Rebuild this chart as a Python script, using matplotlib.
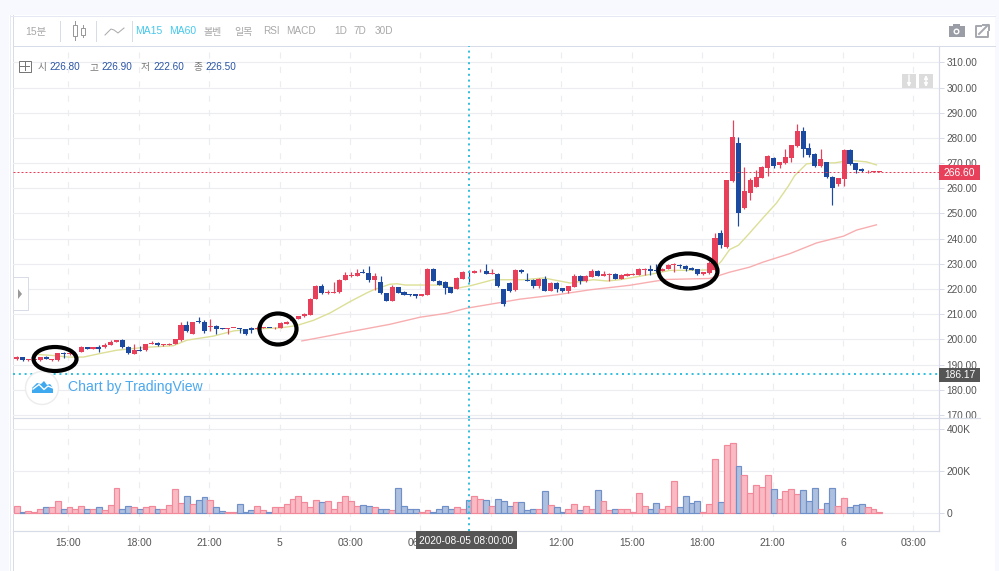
import numpy as np
import matplotlib
matplotlib.use("Agg")
import matplotlib.pyplot as plt
from matplotlib.patches import Rectangle, Ellipse, Circle, Polygon

plt.rcParams['font.family'] = ['Liberation Sans', 'Noto Sans CJK KR']

# 15 minute candles
opens = [192.3, 192.9, 191.9, 191.9, 191.8, 192.9, 192.0, 191.8, 194.3, 194.2,
         194.5, 195.2, 196.9, 196.0, 196.9, 197.0, 197.7, 199.0, 199.9, 197.1,
         194.4, 195.8, 195.7, 198.0, 198.7, 197.6, 197.8, 198.0, 199.7, 205.6,
         202.0, 207.2, 207.0, 205.0, 205.5, 204.4, 204.2, 204.5, 204.6, 204.0,
         204.6, 204.0, 204.6, 204.6, 204.4, 204.5, 206.2, 207.2, 208.2, 209.2,
         209.6, 216.0, 221.2, 218.4, 218.6, 218.7, 223.7, 225.2, 225.2, 226.9,
         226.5, 223.7, 222.9, 218.4, 215.3, 220.9, 218.7, 218.1, 218.1, 217.4,
         217.7, 228.1, 223.3, 222.9, 220.9, 220.0, 224.1, 226.9, 226.5, 227.0,
         227.3, 225.9, 226.1, 220.1, 222.5, 219.5, 227.7, 223.7, 223.7, 221.3,
         224.1, 219.3, 222.5, 220.5, 219.3, 220.9, 225.3, 223.3, 224.9, 227.3,
         225.3, 225.7, 226.1, 224.1, 225.3, 225.5, 225.7, 227.7, 228.1, 227.7,
         227.1, 228.1, 229.5, 229.7, 229.3, 228.4, 227.9, 225.8, 226.2, 227.7,
         242.1, 236.5, 262.8, 277.8, 252.0, 258.3, 260.7, 264.0, 267.9, 271.9,
         269.1, 269.9, 271.9, 276.6, 282.6, 276.2, 273.8, 268.7, 270.3, 264.3,
         261.9, 263.5, 275.4, 269.9, 267.5, 266.7, 266.6, 266.5]
closes = [193.0, 191.9, 192.0, 192.0, 193.0, 192.3, 192.2, 194.5, 194.2, 194.7,
          194.7, 196.9, 196.0, 196.9, 196.3, 197.8, 199.0, 199.9, 197.0, 194.5,
          195.8, 195.5, 198.0, 198.5, 197.7, 198.0, 198.3, 200.1, 205.6, 203.2,
          206.8, 207.0, 203.4, 205.3, 204.2, 204.2, 204.4, 204.6, 204.0, 202.0,
          203.8, 204.6, 204.7, 204.5, 204.5, 206.5, 207.0, 208.2, 209.2, 210.0,
          216.2, 221.1, 218.5, 218.8, 218.9, 223.7, 225.7, 225.4, 226.5, 226.3,
          223.7, 225.3, 218.3, 215.3, 220.9, 218.6, 217.8, 217.7, 217.3, 218.1,
          228.1, 223.1, 221.7, 220.5, 218.6, 224.5, 226.9, 226.6, 227.3, 227.3,
          226.1, 226.3, 221.1, 213.9, 219.3, 227.7, 226.9, 223.3, 221.3, 224.1,
          219.3, 222.5, 220.1, 219.3, 221.3, 225.3, 223.3, 225.3, 227.3, 225.3,
          226.1, 226.1, 224.1, 225.7, 225.8, 226.1, 228.1, 228.1, 227.3, 227.0,
          228.1, 229.7, 230.1, 229.1, 228.1, 227.5, 225.8, 226.6, 230.5, 240.1,
          237.3, 263.1, 280.2, 250.0, 259.1, 263.1, 264.3, 268.3, 273.0, 268.7,
          270.3, 272.3, 277.0, 282.6, 275.8, 273.4, 268.7, 271.5, 264.3, 260.3,
          263.9, 275.4, 269.5, 267.1, 266.7, 267.0, 266.8, 266.6]
highs = [193.5, 193.0, 192.1, 192.1, 193.2, 193.4, 192.4, 194.8, 195.0, 194.9,
         194.9, 197.2, 197.0, 197.0, 197.8, 198.6, 199.6, 199.9, 200.0, 197.2,
         198.0, 197.4, 198.2, 199.2, 198.9, 198.2, 198.5, 200.1, 207.0, 207.5,
         207.0, 209.0, 207.7, 208.2, 205.7, 204.6, 204.4, 204.6, 204.7, 204.0,
         204.8, 204.8, 204.8, 204.7, 204.8, 206.8, 207.5, 208.5, 209.4, 210.5,
         216.3, 221.8, 222.0, 219.6, 222.7, 223.9, 226.9, 226.9, 228.0, 228.1,
         229.0, 226.3, 225.3, 218.5, 221.5, 221.0, 219.2, 218.1, 218.2, 218.2,
         228.2, 228.2, 223.4, 223.0, 221.0, 224.6, 227.0, 227.5, 227.4, 228.1,
         230.0, 228.0, 226.2, 220.2, 222.6, 227.8, 228.1, 226.5, 223.8, 224.2,
         225.2, 222.6, 222.6, 220.6, 221.4, 226.1, 225.4, 225.4, 228.1, 227.4,
         227.1, 226.2, 226.2, 225.8, 226.4, 226.2, 228.2, 228.2, 229.7, 230.0,
         228.2, 229.8, 230.2, 229.8, 229.4, 228.8, 228.0, 226.7, 231.0, 242.1,
         243.6, 263.3, 287.0, 280.2, 268.3, 263.9, 267.1, 268.8, 273.1, 272.6,
         270.4, 275.8, 277.1, 285.4, 284.2, 277.8, 273.9, 275.8, 270.4, 264.7,
         264.0, 275.5, 275.5, 270.0, 267.9, 267.1, 266.9, 266.7]
lows = [192.0, 191.6, 191.5, 191.5, 191.5, 192.1, 191.6, 191.6, 192.6, 194.0,
        194.3, 195.0, 196.0, 196.0, 195.0, 196.6, 197.6, 198.9, 196.7, 194.3,
        194.3, 195.3, 195.5, 198.0, 197.2, 197.5, 197.6, 198.0, 199.2, 203.0,
        202.0, 206.5, 202.7, 203.5, 202.0, 204.0, 202.0, 204.4, 202.4, 201.7,
        202.7, 204.0, 204.5, 204.4, 204.2, 204.5, 206.0, 207.2, 208.0, 209.0,
        209.5, 215.9, 218.0, 218.0, 218.5, 218.6, 223.6, 224.9, 225.1, 226.2,
        222.8, 219.7, 218.2, 215.3, 215.3, 218.5, 217.7, 217.3, 216.3, 217.3,
        217.6, 223.0, 221.5, 218.1, 218.3, 220.0, 224.0, 222.8, 226.4, 226.6,
        226.0, 225.8, 221.0, 213.1, 218.7, 219.3, 226.5, 223.2, 220.5, 220.5,
        219.2, 219.3, 218.9, 218.9, 218.4, 220.8, 222.1, 222.9, 224.8, 225.2,
        225.2, 223.3, 224.0, 224.0, 225.2, 225.4, 225.6, 225.7, 225.7, 226.9,
        227.0, 228.0, 226.7, 228.3, 227.1, 227.4, 225.7, 225.7, 226.1, 227.0,
        236.2, 236.4, 262.7, 245.2, 251.9, 255.2, 260.6, 263.9, 264.7, 267.9,
        267.9, 269.8, 270.3, 276.5, 272.3, 272.3, 268.6, 268.6, 264.2, 253.2,
        261.1, 261.1, 269.4, 265.9, 266.6, 265.9, 266.5, 266.5]
volumes = [30, 2, 6, 1, 16, 25, 25, 54, 20, 25,
           20, 30, 16, 16, 25, 11, 35, 120, 16, 30,
           25, 20, 25, 30, 16, 20, 35, 111, 44, 82,
           40, 59, 73, 59, 25, 6, 2, 2, 40, 2,
           11, 30, 11, 1, 25, 25, 40, 63, 78, 49,
           25, 59, 49, 54, 20, 49, 82, 54, 30, 35,
           30, 25, 16, 20, 11, 116, 30, 20, 16, 2,
           11, 1, 20, 30, 16, 25, 20, 59, 78, 63,
           59, 30, 63, 54, 30, 49, 49, 11, 20, 16,
           102, 35, 25, 2, 20, 40, 11, 30, 20, 106,
           54, 11, 16, 16, 16, 2, 92, 30, 20, 44,
           16, 30, 149, 25, 78, 44, 54, 2, 40, 254,
           49, 325, 335, 221, 178, 92, 130, 125, 178, 111,
           63, 102, 111, 87, 106, 54, 116, 20, 44, 116,
           30, 68, 25, 35, 40, 25, 16, 1]

# moving averages, read at the bends of each line
ma15_bar = [3.7, 6.3, 8.8, 11.4, 14.2, 17, 21.6, 26.7, 29, 33.5, 37, 41, 45, 47.7, 50.6, 53.4,
            56.8, 59.6, 60.8, 63.6, 64.8, 66.2, 72.2, 75, 77.3, 81.2, 86.4, 89.8, 94.3, 98.3,
            100.6, 102.8, 107.9, 111.3, 116.4, 118.7, 120.1, 121.5, 123, 124.7, 127.2, 129.5,
            131.5, 132.6, 134.6, 136.3, 139.4, 142, 144.8, 146.5]
ma15_val = [194.0, 193.6, 193.0, 193.0, 194.4, 195.7, 196.8, 197.5, 199.7, 201.3, 203.4, 204.2,
            204.6, 205.5, 207.6, 210.5, 215.0, 218.4, 219.7, 221.9, 222.1, 221.6, 221.6, 220.3,
            221.3, 223.7, 223.7, 224.4, 222.4, 223.7, 223.2, 223.7, 225.8, 227.4, 227.5, 227.7,
            231.1, 235.7, 237.4, 241.7, 248.3, 254.2, 260.9, 265.1, 269.7, 270.1, 270.1, 271.1,
            270.5, 269.3]
ma60_bar = [48.6, 53.4, 56.2, 59, 63.6, 68.7, 73.3, 76.7, 81.8, 85.8, 92, 97.7, 104.5, 107.9,
            110.7, 118.1, 121.5, 124.9, 127.2, 131.8, 136.3, 140.9, 143.1, 146.5]
ma60_val = [199.4, 201.5, 202.8, 204.0, 206.0, 208.8, 210.4, 212.4, 214.4, 216.0, 217.7, 219.7,
            221.5, 222.8, 223.8, 224.2, 226.7, 228.7, 230.7, 234.1, 238.3, 241.0, 243.4, 245.5]

price_ticks = [170, 180, 190, 200, 210, 220, 230, 240, 250, 260, 270, 280, 290, 300, 310]
vol_ticks = [0, 200, 400]
vol_tick_labels = ['0', '200K', '400K']
time_labels = ['15:00', '18:00', '21:00', '5', '03:00', '06:00', '09:00', '12:00', '15:00',
               '18:00', '21:00', '6', '03:00']
time_ticks = [8.8 + 12 * n for n in range(len(time_labels))]

RED = '#e8405a'
BLUE = '#1c4aa0'
GRID = '#ecedf1'
LINE = '#d8dbe8'
CYAN = '#35c0de'
PX = 0.72  # one pixel in points

W, H = 999, 571
fig = plt.figure(figsize=(W / 100, H / 100), dpi=100, facecolor='white')


def px_axes(x0, y0, x1, y1, zorder=1):
    ax = fig.add_axes([x0 / W, 1 - y1 / H, (x1 - x0) / W, (y1 - y0) / H], zorder=zorder)
    ax.patch.set_alpha(0)
    return ax


# page chrome behind the chart
bg = px_axes(0, 0, W, H, zorder=0)
bg.set_xlim(0, W)
bg.set_ylim(H, 0)
bg.axis('off')
bg.add_patch(Rectangle((0, 0), W, 15, color='#f7f9fe', lw=0))
bg.add_patch(Rectangle((0, 0), 9, H, color='#f7f9fe', lw=0))
bg.add_patch(Rectangle((995, 0), 4, H, color='#f7f9fe', lw=0))
bg.plot([9.5, 9.5], [15, H], color='#e6e9f3', lw=PX)
bg.plot([12.5, 12.5], [15, H], color=LINE, lw=PX)
bg.plot([9.5, 995], [15.5, 15.5], color='#e6e9f3', lw=PX)
bg.plot([12.5, 995], [46, 46], color=LINE, lw=PX)

x = np.arange(len(opens))
up = np.array(closes) >= np.array(opens)
bottoms = np.minimum(opens, closes)
heights = np.maximum(np.abs(np.array(closes) - np.array(opens)), 0.3)

# price panel
ax = px_axes(13, 46, 939, 418, zorder=1)
ax.set_xlim(-0.63, 157.17)
ax.set_ylim(168.8, 316.5)
ax.set_xticks(time_ticks)
ax.set_yticks(price_ticks)
ax.set_yticklabels([f"{p:.2f}" for p in price_ticks])
ax.yaxis.tick_right()
ax.tick_params(axis='x', length=0, labelbottom=False)
ax.tick_params(axis='y', length=3.5, width=PX, color=LINE, labelsize=7.2, labelcolor='#555555', pad=2)
ax.grid(axis='y', color=GRID, lw=PX * 1.2)
ax.grid(axis='x', color=GRID, lw=PX * 1.2, ls=(0, (5, 7)))
ax.set_axisbelow(True)
for s in ['top', 'left', 'bottom']:
    ax.spines[s].set_visible(False)
ax.spines['right'].set_color(LINE)
ax.spines['right'].set_linewidth(PX * 1.2)
colors = [RED if u else BLUE for u in up]
ax.vlines(x, lows, highs, colors=colors, lw=PX * 1.2, zorder=3)
ax.bar(x, heights, bottom=bottoms, width=0.86, color=colors, lw=0, zorder=3)
ax.plot(ma15_bar, ma15_val, color='#dcdf96', lw=1.0, zorder=2)
ax.plot(ma60_bar, ma60_val, color='#f8aeb0', lw=1.0, zorder=2)
ax.axhline(266.6, color=RED, lw=PX, ls=(0, (2, 2)), zorder=4)
ax.axhline(186.17, color=CYAN, lw=1.44, ls=(0, (1, 1.9)), zorder=4)
ax.axvline(77, color=CYAN, lw=1.44, ls=(0, (1, 1.9)), zorder=4)

# volume panel
vol = px_axes(13, 418, 939, 531, zorder=1)
vol.set_xlim(-0.63, 157.17)
vol.set_ylim(-87.4, 452)
vol.set_xticks(time_ticks)
vol.set_xticklabels(time_labels)
vol.set_yticks(vol_ticks)
vol.set_yticklabels(vol_tick_labels)
vol.yaxis.tick_right()
vol.tick_params(axis='x', length=0, labelsize=7.4, labelcolor='#555555', pad=5)
vol.tick_params(axis='y', length=3.5, width=PX, color=LINE, labelsize=7.4, labelcolor='#555555', pad=2)
vol.grid(axis='y', color=GRID, lw=PX * 1.2)
vol.grid(axis='x', color=GRID, lw=PX * 1.2, ls=(0, (5, 7)))
vol.set_axisbelow(True)
for s in ['top', 'left']:
    vol.spines[s].set_visible(False)
vol.spines['right'].set_color(LINE)
vol.spines['right'].set_linewidth(PX * 1.2)
vol.spines['bottom'].set_color(LINE)
vol.spines['bottom'].set_linewidth(PX * 1.2)
vol.bar(x, volumes, width=1.0, color=['#f9bac4' if u else '#aec0df' for u in up],
        edgecolor=['#f1899a' if u else '#6f90c8' for u in up], lw=0.85, zorder=2)
vol.axvline(77, color=CYAN, lw=1.44, ls=(0, (1, 1.9)), zorder=4)

# toolbar, labels and hand drawn circles on top
fg = px_axes(0, 0, W, H, zorder=3)
fg.set_xlim(0, W)
fg.set_ylim(H, 0)
fg.axis('off')

GREY = '#a8a8a8'
fg.plot([13, 980], [418.3, 418.3], color=LINE, lw=PX * 1.2)
fg.text(25, 31.5, '15분', color=GREY, fontsize=7.5, va='center')
for sx in [59.5, 95.5, 131.5]:
    fg.plot([sx, sx], [21, 41], color=LINE, lw=PX)
fg.add_patch(Rectangle((72.5, 25), 4, 11, fc='white', ec='#999999', lw=PX))
fg.plot([74.5, 74.5], [21, 40], color='#999999', lw=PX, zorder=0)
fg.add_patch(Rectangle((81, 27.5), 3.5, 7, fc='white', ec='#999999', lw=PX))
fg.plot([82.7, 82.7], [25, 37], color='#999999', lw=PX, zorder=0)
fg.plot([105, 111, 114, 118, 124], [35, 29, 30, 33, 28], color='#aaaaaa', lw=PX)
fg.text(135, 31.5, 'MA15', color='#45c8ec', fontsize=7.5, va='center')
fg.text(169, 31.5, 'MA60', color='#45c8ec', fontsize=7.5, va='center')
for tx, label in [(204, '볼벤'), (234, '일목'), (263, 'RSI'), (286, 'MACD'), (334, '1D'), (354, '7D'), (375, '30D')]:
    fg.text(tx, 31.5, label, color=GREY, fontsize=7.2, va='center')

# ohlc legend
fg.add_patch(Rectangle((18.5, 60.5), 12, 11, fc='white', ec='#777777', lw=PX))
fg.plot([24.5, 24.5], [62, 70], color='#777777', lw=PX)
fg.plot([20, 29], [66, 66], color='#777777', lw=PX)
for tx, name, tv, value in [(38, '시', 49, '226.80'), (90, '고', 101, '226.90'),
                            (141, '저', 153, '222.60'), (193, '종', 205, '226.50')]:
    fg.text(tx, 67, name, color='#777777', fontsize=7, va='center')
    fg.text(tv, 67, value, color='#2a55a5', fontsize=7.2, va='center')

# top right icons
fg.add_patch(Rectangle((949, 26), 15.5, 11, color='#9a9da6', lw=0))
fg.add_patch(Rectangle((953, 24), 7, 3, color='#9a9da6', lw=0))
fg.add_patch(Circle((956.5, 31.5), 3, fc='white', ec='none'))
fg.add_patch(Circle((956.5, 31.5), 1.6, fc='#9a9da6', ec='none'))
fg.plot([981, 975.5, 975.5, 988, 988], [25.5, 25.5, 37, 37, 32], color='#a5a7ae', lw=1.4)
fg.plot([979, 988], [34, 25], color='#a5a7ae', lw=1.4)
fg.plot([983, 988.5, 988.5], [25, 25, 30], color='#a5a7ae', lw=1.4)

# scale buttons in the corner
for bx, style in [(902, '-|>'), (919, '<|-|>')]:
    fg.add_patch(Rectangle((bx, 74), 14, 14, color='#dcdcdc', lw=0))
    fg.annotate('', xy=(bx + 7, 87), xytext=(bx + 7, 75),
                arrowprops=dict(arrowstyle=style, color='white', lw=1.0, mutation_scale=5,
                                shrinkA=0, shrinkB=0))

# collapse handle
fg.add_patch(Rectangle((12.5, 277), 15, 33, fc='white', ec=LINE, lw=PX))
fg.add_patch(Polygon([(18, 289), (18, 299), (22, 294)], color='#999999', lw=0))

# price labels
fg.add_patch(Rectangle((939, 165), 41, 14.5, color=RED, lw=0))
fg.text(959.5, 172.5, '266.60', color='white', fontsize=7.4, ha='center', va='center')
fg.add_patch(Rectangle((939, 367.5), 41, 14.5, color='#555555', lw=0))
fg.text(959.5, 375, '186.17', color='white', fontsize=7.4, ha='center', va='center')

# crosshair time label
fg.add_patch(Rectangle((416, 531), 101, 18, color='#555555', lw=0))
fg.text(466.5, 541, '2020-08-05 08:00:00', color='white', fontsize=7.3, ha='center', va='center')

# tradingview logo
fg.add_patch(Circle((42, 388), 16.5, fc='white', ec='#ececec', lw=1))
fg.add_patch(Polygon([(32, 393), (32, 388), (37, 383), (41, 384), (44, 381), (47, 385),
                      (50, 384), (53, 388), (53, 393)], color='#3fa9f0', lw=0))
fg.plot([33, 39, 44, 48, 53], [389, 384.5, 389.5, 386, 388], color='white', lw=1)
fg.text(68.5, 387.5, 'Chart by TradingView', color='#4aa8ee', fontsize=10.1, va='center')

# black circles marked by hand on the screenshot
for cx, cy, ew, eh in [(55, 359, 43, 24), (278, 329, 37, 31), (688, 271, 59, 35)]:
    fg.add_patch(Ellipse((cx, cy), ew, eh, fc='none', ec='black', lw=3.0))

fig.savefig('out.png', dpi=100)
